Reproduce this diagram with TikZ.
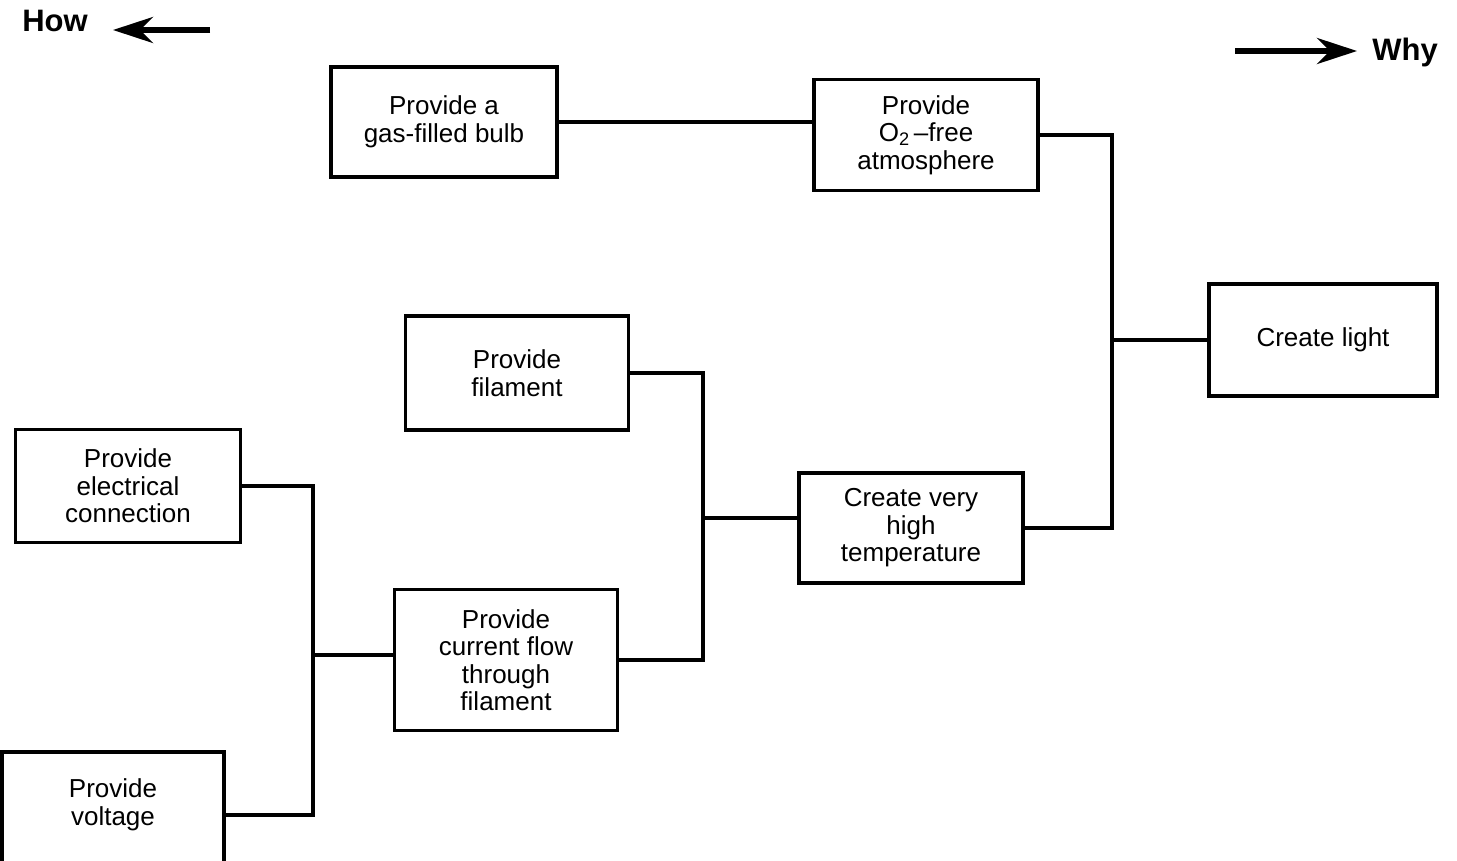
\documentclass[tikz,border=0pt]{standalone}
\usepackage{fontspec}
\setmainfont{Liberation Sans}
\usetikzlibrary{arrows.meta}
\begin{document}
\begin{tikzpicture}[x=1pt,y=-1pt,
  box/.style={draw, line width=3.2pt, align=center, inner sep=0pt,
    font=\fontsize{26}{27.5}\selectfont},
  conn/.style={line width=3.2pt},
  bigarrow/.style={line width=5.5pt, -{Stealth[length=40pt,width=26pt,inset=13pt]}},
  label/.style={font=\bfseries\fontsize{31}{32}\selectfont, inner sep=0pt}]
\useasboundingbox (0,0) rectangle (1457,860);
\clip (0,0) rectangle (1457,860);
\fill[white] (0,0) rectangle (1457,860);

% header
\node[label] (how) at (55,21) {How};
\coordinate (howS) at (210,30);
\coordinate (howE) at (113,30);
\draw[bigarrow] (howS) -- (howE);
\node[label] (why) at (1405,52) {Why};
\coordinate (whyS) at (1235,51);
\coordinate (whyE) at (1357,51);
\draw[bigarrow] (whyS) -- (whyE);

% boxes
\node[box, minimum width=226pt, minimum height=110pt] (gas) at (444,122) {Provide a\\gas-filled bulb};
\node[box, minimum width=224pt, minimum height=111pt] (oxy) at (926,135) {Provide\\O\textsubscript{2}\,–free\\atmosphere};
\node[box, minimum width=228pt, minimum height=112pt] (light) at (1323,340) {Create light};
\node[box, minimum width=223pt, minimum height=114pt] (fil) at (517,373) {Provide\\filament};
\node[box, minimum width=224pt, minimum height=110pt] (temp) at (911,528) {Create very\\high\\temperature};
\node[box, minimum width=225pt, minimum height=113pt] (elec) at (128,486) {Provide\\electrical\\connection};
\node[box, minimum width=223pt, minimum height=141pt] (cur) at (506,660) {Provide\\current flow\\through\\filament};
\node[box, minimum width=222pt, minimum height=126pt] (volt) at (113,815) {};
\node[font=\fontsize{26}{27.5}\selectfont, align=center] (voltT) at (113,805) {Provide\\voltage};

% connectors
\draw[conn] (gas.east) -- (gas.east -| oxy.west);

\coordinate (j1) at (1112,340);
\draw[conn] (oxy.east) -| (j1) |- (temp.east);
\draw[conn] (j1) -- (light.west);

\coordinate (j2) at (703,518);
\draw[conn] (fil.east) -| (j2) |- (cur.east);
\draw[conn] (j2) -- (j2 -| temp.west);

\coordinate (j3) at (313,655);
\draw[conn] (elec.east) -| (j3) |- (volt.east);
\draw[conn] (j3) -- (j3 -| cur.west);
\end{tikzpicture}
\end{document}
